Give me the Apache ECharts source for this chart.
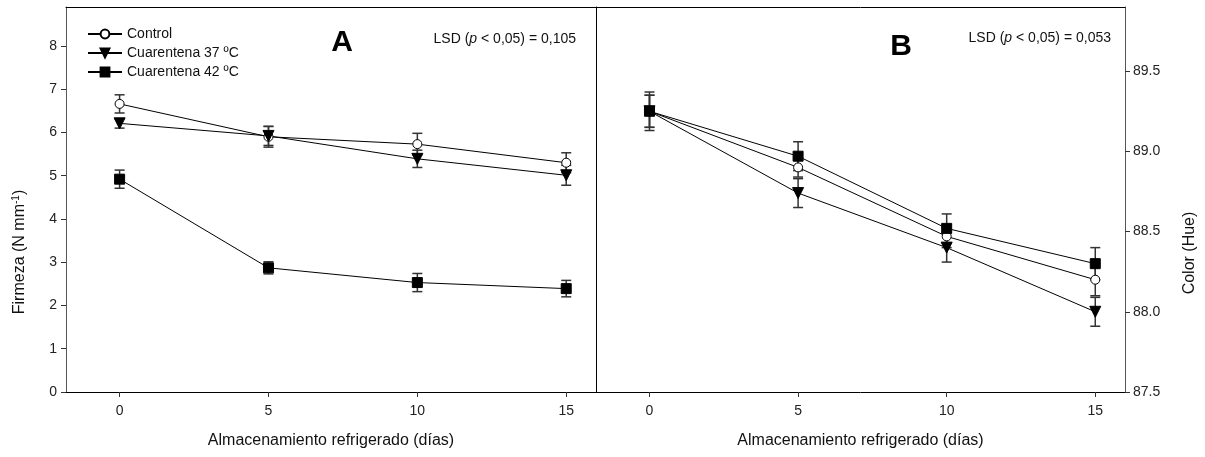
<!DOCTYPE html>
<html>
<head>
<meta charset="utf-8">
<script src="https://cdn.jsdelivr.net/npm/echarts@6/dist/echarts.min.js"></script>
<style>
  html, body { margin: 0; padding: 0; background: #fff; }
  #chart { width: 1205px; height: 457px; }
</style>
</head>
<body>
<div id="chart"></div>
<script>
// días de almacenamiento
var days = [0, 5, 10, 15];
var seriesNames = ['Control', 'Cuarentena 37 ºC', 'Cuarentena 42 ºC'];

// Panel A - firmeza (N mm-1) y errores
var firmControl = [6.66, 5.90, 5.73, 5.30];
var firmControlErr = [0.21, 0.24, 0.25, 0.23];
var firm37 = [6.21, 5.92, 5.39, 5.01];
var firm37Err = [0.11, 0.22, 0.20, 0.23];
var firm42 = [4.92, 2.87, 2.53, 2.39];
var firm42Err = [0.21, 0.14, 0.21, 0.19];

// Panel B - color (hue) y errores
var hueControl = [89.25, 88.90, 88.47, 88.20];
var hueControlErr = [0.12, 0.06, 0.07, 0.10];
var hue37 = [89.25, 88.74, 88.40, 88.00];
var hue37Err = [0.10, 0.09, 0.09, 0.09];
var hue42 = [89.25, 88.97, 88.52, 88.30];
var hue42Err = [0.10, 0.09, 0.09, 0.10];

var xTicks = [0, 5, 10, 15];
var firmTicks = [0, 1, 2, 3, 4, 5, 6, 7, 8];
var hueTicks = [87.5, 88.0, 88.5, 89.0, 89.5];

var FONT = 'Arial, "Liberation Sans", sans-serif';
var triDown = 'path://M0,0L10,0L5,9Z';

function pairs(vals) {
    return days.map(function (d, i) { return [d, vals[i]]; });
}
function errData(vals, errs) {
    return days.map(function (d, i) { return [d, vals[i] - errs[i], vals[i] + errs[i]]; });
}
function renderErr(params, api) {
    var lo = api.coord([api.value(0), api.value(1)]);
    var hi = api.coord([api.value(0), api.value(2)]);
    var w = 5;
    var st = { stroke: '#333', lineWidth: 1.5 };
    return {
        type: 'group',
        children: [
            { type: 'line', shape: { x1: lo[0], y1: lo[1], x2: hi[0], y2: hi[1] }, style: st },
            { type: 'line', shape: { x1: lo[0] - w, y1: lo[1], x2: lo[0] + w, y2: lo[1] }, style: st },
            { type: 'line', shape: { x1: hi[0] - w, y1: hi[1], x2: hi[0] + w, y2: hi[1] }, style: st }
        ]
    };
}

function lineSeries(name, vals, idx, symbol, size, fill) {
    return {
        name: name,
        type: 'line',
        xAxisIndex: idx,
        yAxisIndex: idx,
        data: pairs(vals),
        symbol: symbol,
        symbolSize: size,
        showAllSymbol: true,
        z: 3,
        lineStyle: { color: '#000', width: 1 },
        itemStyle: { color: fill, borderColor: '#000', borderWidth: 1 },
        animation: false
    };
}
function errSeries(vals, errs, idx) {
    return {
        type: 'custom',
        xAxisIndex: idx,
        yAxisIndex: idx,
        renderItem: renderErr,
        data: errData(vals, errs),
        encode: { x: 0, y: [1, 2] },
        z: 2,
        silent: true,
        animation: false
    };
}

function xAxisCfg(idx) {
    return {
        type: 'value',
        gridIndex: idx,
        min: -1.8,
        max: 16,
        position: 'bottom',
        name: 'Almacenamiento refrigerado (días)',
        nameLocation: 'middle',
        nameGap: 41,
        nameTextStyle: { fontFamily: FONT, fontSize: 16, color: '#111' },
        axisLine: { show: true, onZero: false, lineStyle: { color: '#000', width: 1 } },
        axisTick: { show: true, length: 5, customValues: xTicks, lineStyle: { color: '#333' } },
        axisLabel: { customValues: xTicks, margin: 12, fontFamily: FONT, fontSize: 14, color: '#222' },
        splitLine: { show: false }
    };
}
// bordes del marco (solo línea, sin marcas)
function edgeAxis(idx, pos, lo, hi) {
    return {
        type: 'value',
        gridIndex: idx,
        min: lo,
        max: hi,
        position: pos,
        axisLine: { show: true, onZero: false, lineStyle: { color: '#000', width: 1 } },
        axisTick: { show: false },
        axisLabel: { show: false },
        splitLine: { show: false }
    };
}

var myChart = echarts.init(document.getElementById('chart'));
var option = {
    backgroundColor: '#fff',
    animation: false,
    textStyle: { fontFamily: FONT },
    grid: [
        { left: 66, right: 609, top: 7, bottom: 65 },
        { left: 596, right: 80, top: 7, bottom: 65 }
    ],
    legend: {
        data: seriesNames,
        orient: 'vertical',
        left: 82,
        top: 22,
        itemWidth: 34,
        itemHeight: 11,
        itemGap: 5,
        textStyle: { fontFamily: FONT, fontSize: 14, color: '#111' },
        selectedMode: false
    },
    xAxis: [xAxisCfg(0), xAxisCfg(1), edgeAxis(0, 'top', -1.8, 16), edgeAxis(1, 'top', -1.8, 16)],
    yAxis: [
        {
            type: 'value',
            gridIndex: 0,
            min: 0,
            max: 8.9,
            position: 'left',
            axisLine: { show: true, onZero: false, lineStyle: { color: '#555', width: 1 } },
            axisTick: { show: true, length: 5, customValues: firmTicks, lineStyle: { color: '#333' } },
            axisLabel: { customValues: firmTicks, margin: 9, fontFamily: FONT, fontSize: 14, color: '#222' },
            splitLine: { show: false }
        },
        {
            type: 'value',
            gridIndex: 1,
            min: 87.5,
            max: 89.9,
            position: 'right',
            axisLine: { show: true, onZero: false, lineStyle: { color: '#555', width: 1 } },
            axisTick: { show: true, length: 5, customValues: hueTicks, lineStyle: { color: '#333' } },
            axisLabel: {
                customValues: hueTicks, margin: 8, fontFamily: FONT, fontSize: 14, color: '#222',
                formatter: function (v) { return v.toFixed(1); }
            },
            splitLine: { show: false }
        },
        edgeAxis(0, 'right', 0, 8.9)
    ],
    graphic: [
        {
            type: 'text', x: 20, y: 252, rotation: Math.PI / 2,
            style: {
                text: 'Firmeza (N mm{sup|-1})',
                align: 'center', verticalAlign: 'middle',
                font: '16px ' + FONT, fill: '#111',
                rich: { sup: { fontSize: 10, fontFamily: FONT, verticalAlign: 'top', padding: [0, 0, 8, 0], fill: '#111' } }
            }
        },
        {
            type: 'text', x: 1190, y: 253, rotation: Math.PI / 2,
            style: { text: 'Color (Hue)', align: 'center', verticalAlign: 'middle', font: '16px ' + FONT, fill: '#111' }
        },
        {
            type: 'text', x: 342, y: 43,
            style: { text: 'A', align: 'center', verticalAlign: 'middle', font: 'bold 30px ' + FONT, fill: '#000' }
        },
        {
            type: 'text', x: 901, y: 47,
            style: { text: 'B', align: 'center', verticalAlign: 'middle', font: 'bold 30px ' + FONT, fill: '#000' }
        },
        {
            type: 'text', x: 576, y: 39,
            style: {
                text: 'LSD ({i|p} < 0,05) = 0,105', align: 'right', verticalAlign: 'middle',
                font: '14px ' + FONT, fill: '#111',
                rich: { i: { fontStyle: 'italic', fontSize: 14, fontFamily: FONT, fill: '#111' } }
            }
        },
        {
            type: 'text', x: 1111, y: 38,
            style: {
                text: 'LSD ({i|p} < 0,05) = 0,053', align: 'right', verticalAlign: 'middle',
                font: '14px ' + FONT, fill: '#111',
                rich: { i: { fontStyle: 'italic', fontSize: 14, fontFamily: FONT, fill: '#111' } }
            }
        }
    ],
    series: [
        errSeries(firmControl, firmControlErr, 0),
        errSeries(firm37, firm37Err, 0),
        errSeries(firm42, firm42Err, 0),
        lineSeries(seriesNames[0], firmControl, 0, 'circle', 9, '#fff'),
        lineSeries(seriesNames[1], firm37, 0, triDown, 11, '#000'),
        lineSeries(seriesNames[2], firm42, 0, 'rect', 10, '#000'),
        errSeries(hueControl, hueControlErr, 1),
        errSeries(hue37, hue37Err, 1),
        errSeries(hue42, hue42Err, 1),
        lineSeries(seriesNames[0], hueControl, 1, 'circle', 9, '#fff'),
        lineSeries(seriesNames[1], hue37, 1, triDown, 11, '#000'),
        lineSeries(seriesNames[2], hue42, 1, 'rect', 10, '#000')
    ]
};
myChart.setOption(option);
</script>
</body>
</html>
